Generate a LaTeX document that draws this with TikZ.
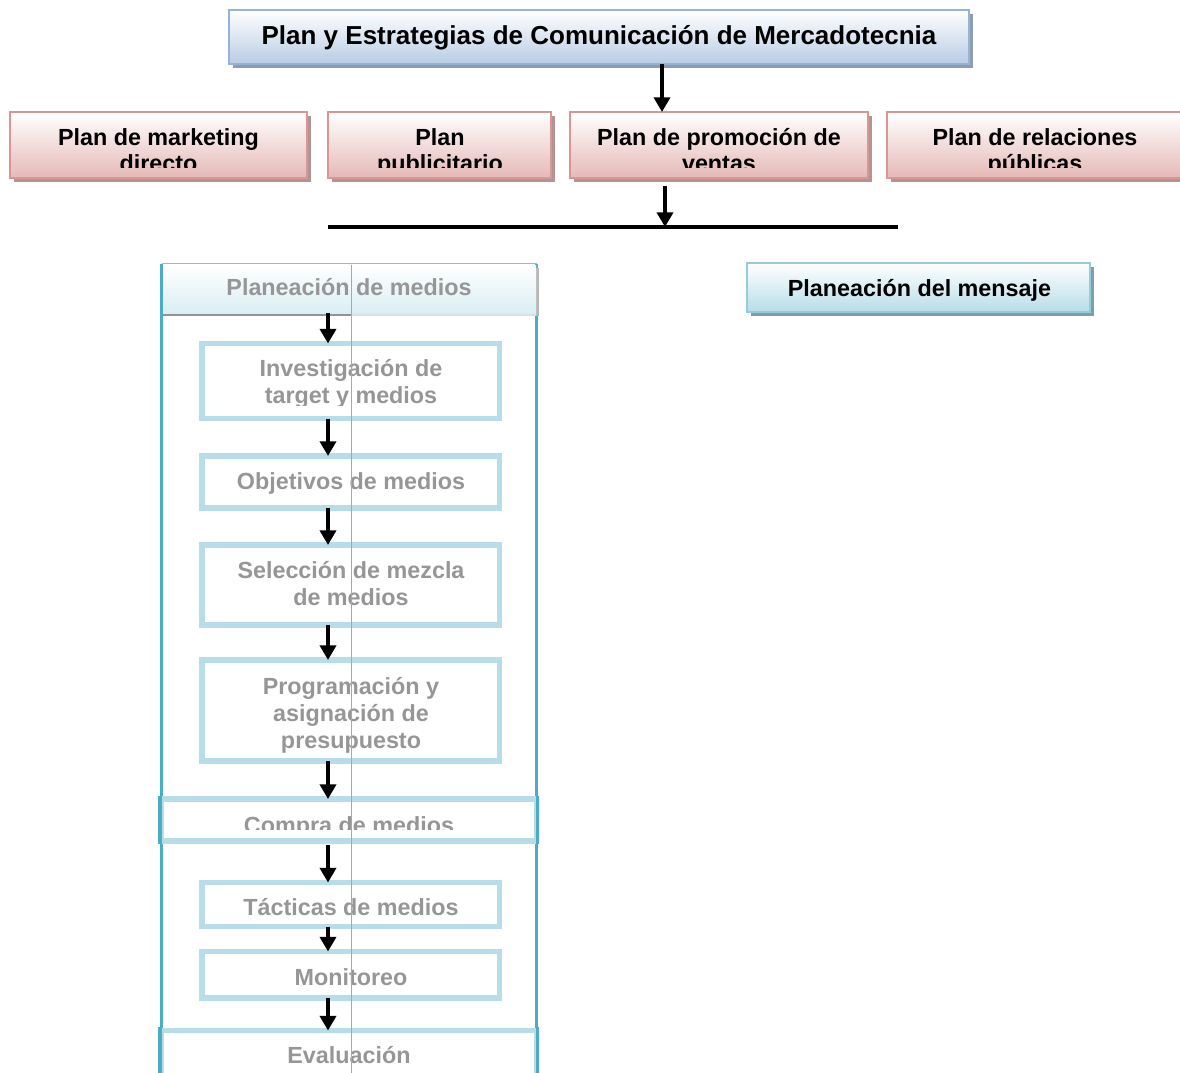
\documentclass[tikz,border=0pt]{standalone}
\usepackage{fontspec}
\setmainfont{Liberation Sans}
\usetikzlibrary{arrows.meta,fit}

\definecolor{titleedge}{HTML}{95B3D7}
\definecolor{titlebot}{HTML}{B8CCE4}
\definecolor{titleshade}{HTML}{8D9CAF}
\definecolor{pinkedge}{HTML}{D99694}
\definecolor{pinkbot}{HTML}{E5B9B7}
\definecolor{pinkshade}{HTML}{B39494}
\definecolor{msgedge}{HTML}{93CDDD}
\definecolor{msgbot}{HTML}{B6DDE8}
\definecolor{msgshade}{HTML}{7E9FA8}
\definecolor{hdrbot}{HTML}{DAEEF3}
\definecolor{frameteal}{HTML}{4BACC6}
\definecolor{stepedge}{HTML}{B7DEE8}
\definecolor{greytext}{HTML}{969696}

% box with a drop shadow: name, x1, y1, x2, y2, box style, shadow style
\newcommand\shadowedbox[7]{%
  \fill[#7] (#2+4,#3+4) rectangle (#4+4,#5+4);
  \node[#6, fit={(#2,#3) (#4,#5)}] (#1) {};
}

\begin{document}
\begin{tikzpicture}[x=0.75pt,y=-0.75pt,
  every node/.style={outer sep=0pt},
  lbl/.style={font=\fontsize{17.5}{20}\selectfont\bfseries, align=center, inner sep=0pt, anchor=base},
  greylbl/.style={lbl, text=greytext},
  titlebox/.style={draw=titleedge, line width=1.2pt, top color=white, bottom color=titlebot, inner sep=0pt},
  titleshadow/.style={fill=titleshade},
  pinkbox/.style={draw=pinkedge, line width=1.2pt, top color=white, bottom color=pinkbot, inner sep=0pt},
  pinkshadow/.style={fill=pinkshade},
  msgbox/.style={draw=msgedge, line width=1.2pt, top color=white, bottom color=msgbot, inner sep=0pt},
  msgshadow/.style={fill=msgshade},
  stepbox/.style={draw=stepedge, line width=4.2pt, fill=white, inner sep=0pt},
  flow/.style={line width=3.4pt, -{Triangle[width=12pt,length=11pt]}},
]
\useasboundingbox (0,0) rectangle (1180,1073);

% ---------- top level ----------
\shadowedbox{title}{229}{10}{969}{64}{titlebox}{titleshadow}
\node[lbl, font=\fontsize{19.5}{20}\selectfont\bfseries] (titletxt) at (599,45)
  {Plan y Estrategias de Comunicación de Mercadotecnia};

% ---------- communication plans ----------
\shadowedbox{direct}{10}{112}{307}{178}{pinkbox}{pinkshadow}
\shadowedbox{advert}{328}{112}{551}{178}{pinkbox}{pinkshadow}
\shadowedbox{promo}{570}{112}{868}{178}{pinkbox}{pinkshadow}
\shadowedbox{pr}{887}{112}{1184}{178}{pinkbox}{pinkshadow}

% two-line labels: the base anchor sits on the last line
\begin{scope}
  \clip (0,112) rectangle (1180,168);
  \node[lbl] (directtxt) at (158.5,171.7) {Plan de marketing\\directo};
  \node[lbl] (adverttxt) at (440,171.7) {Plan\\publicitario};
  \node[lbl] (promotxt) at (719,171.7) {Plan de promoción de\\ventas};
  \node[lbl] (prtxt) at (1035,171.7) {Plan de relaciones\\públicas};
\end{scope}

\coordinate (ax1) at (662,0);
\coordinate (ax2) at (665,0);
\draw[flow] (title.south -| ax1) -- (promo.north -| ax1);

% distribution bar
\coordinate (barL) at (328,227);
\coordinate (barR) at (898,227);
\coordinate (barhit) at (665,227);
\draw[line width=3pt] (barL) -- (barR);
\draw[flow, shorten <=6pt] (promo.south -| ax2) -- (barhit);

% ---------- message planning ----------
\shadowedbox{msg}{747}{263}{1090}{312}{msgbox}{msgshadow}
\node[lbl] (msgtxt) at (919.5,296) {Planeación del mensaje};

% ---------- media planning column ----------
\draw[frameteal, line width=1.6pt] (161.5,1080) -- (161.5,264) (536.5,264) -- (536.5,1080);
\draw[frameteal!70, line width=0.8pt] (161.5,263.5) -- (536.5,263.5);
% header with its shadow
\fill[gray!85] (163,312) rectangle (352,316);
\fill[hdrbot!70!gray!60] (352,312) rectangle (539,316);
\fill[gray!55] (536,268) rectangle (539,316);
\node[fit={(163,265) (536,313)}, inner sep=0pt, top color=white, bottom color=hdrbot] (header) {};
\node[greylbl] (headertxt) at (349,295) {Planeación de medios};

% steps
\node[stepbox, fit={(202,343.5) (499.5,418.5)}] (research) {};
\node[stepbox, fit={(202,456) (499.5,508)}] (objectives) {};
\node[stepbox, fit={(202,545) (499.5,625)}] (mix) {};
\node[stepbox, fit={(202,660) (499.5,761)}] (budget) {};
\node[stepbox, fit={(161,799) (536.5,841)}] (buying) {};
\node[stepbox, fit={(202,882.5) (499.5,926.5)}] (tactics) {};
\node[stepbox, fit={(202,951.5) (499.5,998)}] (monitor) {};
\node[stepbox, fit={(161,1030.5) (536.5,1100)}] (evaluation) {};

% darker side edges of the full-width steps
\draw[frameteal, line width=2.4pt] (160,796) -- (160,844) (537.5,796) -- (537.5,844);
\draw[frameteal, line width=2.4pt] (160,1027) -- (160,1080) (537.5,1027) -- (537.5,1080);

\begin{scope}
  \clip (202,343.5) rectangle (499.5,405);
  \node[greylbl] (researchtxt) at (351,403.5) {Investigación de\\target y medios};
\end{scope}
\node[greylbl] (objectivestxt) at (351,489) {Objetivos de medios};
\node[greylbl] (mixtxt) at (351,605.5) {Selección de mezcla\\de medios};
\node[greylbl] (budgettxt) at (351,748) {Programación y\\asignación de\\presupuesto};
\begin{scope}
  \clip (161,799) rectangle (536.5,829);
  \node[greylbl] (buyingtxt) at (349,833) {Compra de medios};
\end{scope}
\node[greylbl] (tacticstxt) at (351,915) {Tácticas de medios};
\node[greylbl] (monitortxt) at (351,985) {Monitoreo};
\node[greylbl] (evaluationtxt) at (349,1063) {Evaluación};

% hairline running down the column
\draw[frameteal!80, line width=0.4pt] (351,265) -- (351,1080);

% flow arrows
\coordinate (colx) at (328,0);
\draw[flow] (header.south -| colx) -- (research.north -| colx);
\draw[flow] (research.south -| colx) -- (objectives.north -| colx);
\draw[flow] (objectives.south -| colx) -- (mix.north -| colx);
\draw[flow] (mix.south -| colx) -- (budget.north -| colx);
\draw[flow] (budget.south -| colx) -- (buying.north -| colx);
\draw[flow, shorten <=3pt] (buying.south -| colx) -- (tactics.north -| colx);
\draw[flow] (tactics.south -| colx) -- (monitor.north -| colx);
\draw[flow] (monitor.south -| colx) -- (evaluation.north -| colx);
\end{tikzpicture}
\end{document}
